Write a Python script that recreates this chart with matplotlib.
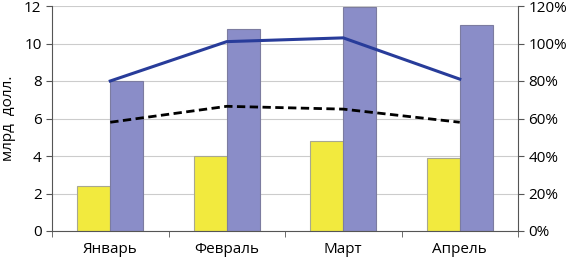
# bars + percent lines, two y axes

import numpy as np
import matplotlib.pyplot as plt

months = ["Январь", "Февраль", "Март", "Апрель"]
yellow_vals = [2.4, 4.0, 4.8, 3.9]
purple_vals = [8.0, 10.8, 11.95, 11.0]
solid_pct = [80, 101, 103, 81]
dashed_pct = [58, 66.5, 65, 58]

plt.rcParams['font.family'] = ['Open Sans', 'DejaVu Sans']

fig = plt.figure(figsize=(5.73, 2.63), dpi=100)
ax = fig.add_axes([52 / 573, 1 - 231 / 263, 466 / 573, 225 / 263])

x = np.arange(len(months))
w = 0.283
ax.bar(x - w / 2, yellow_vals, w, color="#F2EA3E", edgecolor="#A8A890", linewidth=0.8, zorder=2)
ax.bar(x + w / 2, purple_vals, w, color="#8A8DC8", edgecolor="#7C7CA0", linewidth=0.8, zorder=2)

ax.set_xlim(-0.5, len(months) - 0.5)
ax.set_ylim(0, 12)
ax.set_yticks(range(0, 13, 2))
ax.set_xticks(x)
ax.set_xticklabels(months)
ax.set_xticks(np.arange(-0.5, len(months)), minor=True)
ax.tick_params(axis="x", which="major", length=0, pad=8)
ax.tick_params(axis="x", which="minor", length=4, color="#555555")
ax.tick_params(axis="y", length=4, color="#555555", labelsize=11)
ax.tick_params(axis="x", labelsize=11)
ax.grid(axis="y", color="#CCCCCC", linewidth=0.8, zorder=0)
ax.set_axisbelow(True)
for s in ["top", "right"]:
    ax.spines[s].set_visible(False)
ax.spines["left"].set_color("#555555")
ax.spines["bottom"].set_color("#555555")
ax.set_ylabel("млрд  долл.", fontsize=11, labelpad=6)

ax2 = ax.twinx()
ax2.plot(x, solid_pct, color="#283C9A", linewidth=2.2, zorder=3)
ax2.plot(x, dashed_pct, color="black", linewidth=2, linestyle=(0, (3, 1.6)), zorder=3)
ax2.set_ylim(0, 120)
ax2.set_yticks(range(0, 121, 20))
ax2.set_yticklabels([f"{v}%" for v in range(0, 121, 20)])
ax2.tick_params(axis="y", length=4, color="#555555", labelsize=11)
for s in ["top", "left", "bottom"]:
    ax2.spines[s].set_visible(False)
ax2.spines["right"].set_color("#555555")

fig.savefig("out.png", dpi=100)
